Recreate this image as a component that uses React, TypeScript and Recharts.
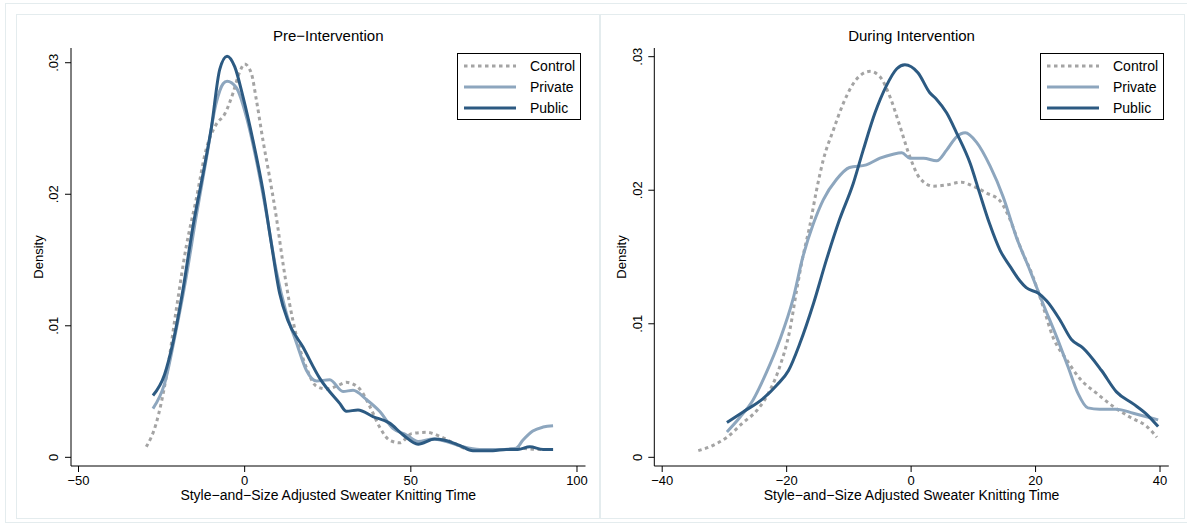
import React from 'react';
import { LineChart, Line, XAxis, YAxis } from 'recharts';

// kernel density curves, [x, density]
const preControl = [
  [-29.6, 0.0008], [-26.6, 0.0026], [-23.6, 0.0061], [-20.6, 0.0112], [-17.6, 0.016], [-14.6, 0.0196],
  [-11.6, 0.0234], [-8.6, 0.0253], [-6.0, 0.0261], [-3.5, 0.0277], [-1.5, 0.0293], [0, 0.0299],
  [2.0, 0.0292], [3.5, 0.0272], [5.5, 0.0241], [7.5, 0.0213], [9.5, 0.0183], [11.5, 0.0148],
  [13.5, 0.0117], [15.6, 0.0092], [18.6, 0.0068], [21.6, 0.0054], [24.6, 0.0052], [27.6, 0.0054],
  [30.6, 0.0057], [34.6, 0.0052], [37.6, 0.0039], [40.6, 0.0023], [43.6, 0.0013], [46.7, 0.0011],
  [50.2, 0.0018], [54.7, 0.0019], [58.7, 0.0016], [62.7, 0.0011], [67.7, 0.0006], [72.7, 0.0006],
  [78.7, 0.0006], [82.8, 0.0007], [87.8, 0.0006], [92.8, 0.0006],
];
const prePrivate = [
  [-27.6, 0.0037], [-24.1, 0.0056], [-20.6, 0.0097], [-17.6, 0.0137], [-14.6, 0.0183], [-11.6, 0.0226],
  [-8.6, 0.0269], [-6.5, 0.0284], [-5.3, 0.0286], [-2.5, 0.0281], [0.5, 0.0259], [3.5, 0.0226],
  [6.5, 0.0186], [9.5, 0.0142], [12.5, 0.011], [15.6, 0.0087], [18.6, 0.0066], [21.6, 0.0058],
  [25.6, 0.0059], [29.6, 0.005], [32.6, 0.0051], [36.6, 0.0044], [40.6, 0.0035], [44.6, 0.0022],
  [48.7, 0.0017], [52.2, 0.0012], [56.7, 0.0014], [60.7, 0.0012], [65.7, 0.0008], [70.7, 0.0006],
  [76.7, 0.0006], [81.7, 0.0007], [83.7, 0.0013], [86.7, 0.002], [89.8, 0.0023], [92.8, 0.0024],
];
const prePublic = [
  [-27.6, 0.0047], [-24.1, 0.0063], [-21.6, 0.0087], [-18.6, 0.0127], [-15.6, 0.0175], [-12.5, 0.0216],
  [-10.0, 0.0251], [-7.5, 0.0295], [-5.3, 0.0305], [-3.0, 0.0297], [-0.5, 0.0274], [2.5, 0.0241],
  [5.5, 0.0203], [8.0, 0.0163], [10.5, 0.0125], [13.0, 0.0104], [17.5, 0.0084], [22.6, 0.006],
  [28.6, 0.0041], [30.6, 0.0035], [34.1, 0.0036], [38.6, 0.0031], [43.6, 0.0026], [47.7, 0.0017],
  [52.2, 0.001], [57.2, 0.0014], [60.2, 0.0013], [64.7, 0.0009], [68.7, 0.0005], [74.7, 0.0005],
  [78.7, 0.0006], [82.2, 0.0006], [85.8, 0.0008], [89.8, 0.0006], [92.8, 0.0006],
];

const duringControl = [
  [-34.2, 0.0005], [-32.3, 0.0008], [-29.6, 0.0015], [-27.0, 0.0026], [-24.8, 0.0035], [-22.7, 0.005],
  [-21.1, 0.0068], [-19.5, 0.0095], [-18.4, 0.0125], [-17.4, 0.015], [-16.3, 0.0173], [-15.2, 0.02],
  [-14.1, 0.0223], [-12.5, 0.0245], [-10.9, 0.0265], [-8.8, 0.0283], [-6.6, 0.0289], [-5.0, 0.0285],
  [-3.4, 0.027], [-1.8, 0.0248], [-0.2, 0.0225], [1.4, 0.0209], [3.6, 0.0203], [5.7, 0.0204],
  [8.1, 0.0206], [10.0, 0.0203], [12.1, 0.0198], [14.3, 0.0192], [15.9, 0.0178], [17.5, 0.0158],
  [19.6, 0.0135], [21.2, 0.0113], [22.8, 0.009], [25.0, 0.0073], [27.1, 0.0059], [29.8, 0.0048],
  [32.5, 0.0038], [35.2, 0.003], [37.9, 0.0023], [39.5, 0.0015],
];
const duringPrivate = [
  [-29.6, 0.0019], [-27.5, 0.003], [-25.4, 0.0043], [-23.3, 0.0063], [-21.1, 0.0088], [-19.0, 0.0118],
  [-17.4, 0.015], [-15.7, 0.0175], [-14.1, 0.0193], [-12.0, 0.0208], [-9.9, 0.0217], [-7.2, 0.0219],
  [-5.0, 0.0224], [-2.9, 0.0227], [-1.5, 0.0228], [-0.2, 0.0224], [2.0, 0.0224], [4.1, 0.0222],
  [5.7, 0.023], [7.3, 0.024], [8.7, 0.0243], [10.5, 0.0236], [12.7, 0.0218], [14.8, 0.0195],
  [16.9, 0.0165], [19.1, 0.014], [21.2, 0.0115], [23.4, 0.009], [25.2, 0.0068], [26.8, 0.0048],
  [28.4, 0.0037], [30.3, 0.0036], [33.0, 0.0036], [35.7, 0.0033], [39.7, 0.0028],
];
const duringPublic = [
  [-29.6, 0.0026], [-27.0, 0.0034], [-23.8, 0.0044], [-21.6, 0.0054], [-19.7, 0.0065], [-17.9, 0.0085],
  [-15.7, 0.0115], [-13.6, 0.0148], [-11.5, 0.0178], [-9.3, 0.0205], [-7.7, 0.023], [-5.8, 0.0258],
  [-4.0, 0.0278], [-2.3, 0.0291], [-1.0, 0.0294], [1.1, 0.0288], [3.0, 0.0273], [4.1, 0.0268],
  [5.7, 0.0258], [7.3, 0.0243], [9.5, 0.022], [11.0, 0.0198], [12.6, 0.0175], [14.3, 0.0155],
  [15.9, 0.0143], [17.5, 0.0132], [18.5, 0.0127], [20.4, 0.0123], [21.8, 0.0117], [23.9, 0.0103],
  [25.8, 0.0088], [27.6, 0.0082], [30.6, 0.0065], [33.0, 0.0049], [35.7, 0.004], [37.9, 0.0032],
  [39.7, 0.0023],
];

const preTicks = [-50, 0, 50, 100];
const duringTicks = [-40, -20, 0, 20, 40];
const densityTicks = [0, 0.01, 0.02, 0.03];
const seriesNames = ['Control', 'Private', 'Public'];

const FONT = '"Liberation Sans", Arial, Helvetica, sans-serif';
const COLORS = ['#a4a4a4', '#8da6be', '#2c5a82'];
const DASH = '3.5 3.5';
const FRAME = '#e4ecee';

const toPoints = (arr: number[][]) => arr.map(([x, y]) => ({ x, y }));
const fmtX = (v: number) => (v < 0 ? `\u2212${Math.abs(v)}` : `${v}`);
const fmtY = (v: number) => (v === 0 ? '0' : `${v.toFixed(2)}`.replace(/^0/, ''));

const XTick = ({ x, y, payload }: any) => (
  <text x={x} y={y} textAnchor="middle" dominantBaseline="central" fontSize={13} fontFamily={FONT} fill="#000">
    {fmtX(payload.value)}
  </text>
);

const YTick = ({ x, y, payload }: any) => (
  <text x={x} y={y} transform={`rotate(-90, ${x}, ${y})`} textAnchor="middle" dominantBaseline="central"
    fontSize={13} fontFamily={FONT} fill="#000">
    {fmtY(payload.value)}
  </text>
);

const PanelLegend = ({ left }: { left: number }) => (
  <div style={{ position: 'absolute', left, top: 39, width: 122, height: 65, border: '1px solid #000', background: '#fff' }}>
    <svg width={122} height={65} style={{ position: 'absolute', left: 0, top: 0 }}>
      {seriesNames.map((name, i) => (
        <g key={name}>
          <line x1={6} x2={58} y1={12 + i * 21} y2={12 + i * 21} stroke={COLORS[i]} strokeWidth={3}
            strokeDasharray={i === 0 ? DASH : undefined} />
          <text x={72} y={12 + i * 21} dominantBaseline="central" fontSize={14} fontFamily={FONT} fill="#000">{name}</text>
        </g>
      ))}
    </svg>
  </div>
);

interface PanelProps {
  left: number;
  width: number;
  plotLeft: number;
  plotRight: number;
  title: string;
  xDomain: number[];
  xTicks: number[];
  yDomain: number[];
  series: number[][][];
  legendLeft: number;
}

const Panel: React.FC<PanelProps> = ({ left, width, plotLeft, plotRight, title, xDomain, xTicks, yDomain, series, legendLeft }) => {
  const height = 504;
  const plotTop = 34;
  const plotBottom = 452;
  const cx = (plotLeft + plotRight) / 2;
  return (
    <div style={{ position: 'absolute', left, top: 14, width, height }}>
      <div style={{ position: 'absolute', left: cx - 150, width: 300, top: 13, textAlign: 'center', fontFamily: FONT, fontSize: 15, lineHeight: '18px', color: '#000' }}>
        {title}
      </div>
      <LineChart width={width} height={height}
        margin={{ top: plotTop, right: width - plotRight, bottom: height - plotBottom - 40, left: plotLeft - 40 }}>
        <XAxis type="number" dataKey="x" domain={xDomain} ticks={xTicks} allowDataOverflow height={40}
          stroke="#000" tickSize={6} tickMargin={8} tick={<XTick />}
          label={{
            content: () => (
              <text x={cx} y={plotBottom + 29} textAnchor="middle" dominantBaseline="central" fontSize={14} fontFamily={FONT} fill="#000">
                {'Style\u2212and\u2212Size Adjusted Sweater Knitting Time'}
              </text>
            ),
          }} />
        <YAxis type="number" domain={yDomain} ticks={densityTicks} allowDataOverflow width={40}
          stroke="#000" tickSize={6} tickMargin={11} tick={<YTick />}
          label={{
            content: () => (
              <text x={plotLeft - 33} y={(plotTop + plotBottom) / 2} transform={`rotate(-90, ${plotLeft - 33}, ${(plotTop + plotBottom) / 2})`}
                textAnchor="middle" dominantBaseline="central" fontSize={13} fontFamily={FONT} fill="#000">
                Density
              </text>
            ),
          }} />
        {series.map((s, i) => (
          <Line key={seriesNames[i]} data={toPoints(s)} dataKey="y" type="monotone" stroke={COLORS[i]} strokeWidth={3}
            strokeDasharray={i === 0 ? DASH : undefined} dot={false} activeDot={false} isAnimationActive={false} />
        ))}
      </LineChart>
      <PanelLegend left={legendLeft} />
    </div>
  );
};

export default function App() {
  return (
    <div style={{ position: 'absolute', left: 0, top: 0, width: 1187, height: 527, background: '#fff', overflow: 'hidden' }}>
      <div style={{ position: 'absolute', left: 5, top: 3, width: 1182, height: 518, border: `1px solid ${FRAME}` }} />
      <div style={{ position: 'absolute', left: 16, top: 14, width: 583, height: 503, border: `1px solid ${FRAME}` }} />
      <div style={{ position: 'absolute', left: 599, top: 14, width: 584, height: 503, border: `1px solid ${FRAME}` }} />
      <Panel left={16} width={584} plotLeft={55} plotRight={569.5} title={'Pre\u2212Intervention'}
        xDomain={[-52.26, 102.56]} xTicks={preTicks} yDomain={[-0.00066, 0.03112]}
        series={[preControl, prePrivate, prePublic]} legendLeft={441} />
      <Panel left={600} width={583} plotLeft={54.3} plotRight={568.8} title="During Intervention"
        xDomain={[-41.27, 41.41]} xTicks={duringTicks} yDomain={[-0.00065, 0.03065]}
        series={[duringControl, duringPrivate, duringPublic]} legendLeft={440} />
    </div>
  );
}
